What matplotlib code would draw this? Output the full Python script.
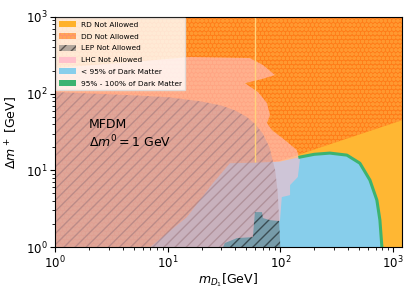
import numpy as np
import matplotlib
matplotlib.use('Agg')
import matplotlib.pyplot as plt
from matplotlib.patches import Patch

# axis ranges
m_lim = [1, 1200]
dm_lim = [1, 1000]

# relic density excluded: whole plane (allowed bits drawn on top)
rd_m = [1, 1200]

# direct detection excluded region (boundary, GeV)
dd_m = [1, 1, 1200, 1200, 86, 50]
dm_dd = [1, 1000, 1000, 45, 12.4, 1]

# LEP excluded region (lower-left, under the curve)
lep_m = [1, 5, 10, 20, 30, 40, 50, 60, 70, 80, 90, 95, 100]
lep_dm = [105, 95, 90, 79, 70, 60, 50, 40, 30, 20, 10, 5, 1]

# LHC excluded region (polygon)
lhc_m = [1, 1, 3.77, 15.8, 53.7, 70.1, 89.5, 68.7, 48.5, 63.3, 76.1, 80.9,
         76.1, 84.2, 110, 140, 149, 143, 122, 122, 103, 99.2, 80.9, 70.1,
         68.7, 59.5, 57.1, 41.2, 32.2, 31.0]
lhc_dm = [1, 216, 251, 300, 291, 236, 175, 155, 137, 105, 75.4, 52.6,
          41.4, 33.5, 24.8, 18.4, 13.6, 8.2, 6.43, 4.76, 4.49, 2.18, 2.25, 2.39,
          2.86, 2.86, 1.35, 1.31, 1.13, 1]

# under-abundant dark matter (< 95%)
dm95_m = [7.0, 14.8, 25.2, 35.7, 60, 99, 149, 200, 275, 390, 508, 624, 719, 765, 797]
dm95_dm = [1, 2.46, 6.8, 12.4, 12.6, 13.0, 14.9, 16.2, 16.8, 15.8, 12.4, 7.47, 4.1, 2.25, 1]

# 95% - 100% band (edge of the blue region)
band_m = [149, 200, 275, 390, 508, 624, 719, 765, 797]
band_dm = [14.9, 16.2, 16.8, 15.8, 12.4, 7.47, 4.1, 2.25, 1]

# Higgs resonance strip
m_res = 60

fig = plt.figure(figsize=(4.15, 2.97), dpi=100)
ax = fig.add_axes([0.1325, 0.168, 0.836, 0.775])

ax.fill_between(rd_m, dm_lim[0], dm_lim[1], color='orange', alpha=0.8, lw=0)
with plt.rc_context({'hatch.linewidth': 1.2}):
    ax.fill(dd_m, dm_dd, facecolor='orangered', alpha=0.5, edgecolor='#ffb347',
            hatch='oooo', lw=0)
    dd_patch = Patch(facecolor='orangered', alpha=0.5, edgecolor='#ffb347',
                     hatch='oooo', lw=0, label='DD Not Allowed')
ax.vlines(m_res, 13, dm_lim[1], color='#ffd27a', lw=1.0)
ax.fill(dm95_m, dm95_dm, color='#87ceeb', lw=0)
ax.plot(band_m, band_dm, color='#3cb371', lw=2.2)
ax.fill(lep_m + [1], lep_dm + [1], facecolor='dimgray', alpha=0.5,
        edgecolor='black', hatch='///', lw=0)
ax.fill(lhc_m, lhc_dm, color='pink', alpha=0.6, lw=0)

ax.set_xscale('log')
ax.set_yscale('log')
ax.set_xlim(m_lim)
ax.set_ylim(dm_lim)
ax.tick_params(labelsize=8.5, pad=2)
ax.set_xlabel(r'$m_{D_1}$[GeV]', fontsize=9, labelpad=0)
ax.set_ylabel(r'$\Delta m^+$ [GeV]', fontsize=9)

ax.text(2.0, 20, 'MFDM\n' + r'$\Delta m^0 = 1$ GeV', fontsize=9)

handles = [
    Patch(facecolor='orange', alpha=0.8, label='RD Not Allowed'),
    dd_patch,
    Patch(facecolor='dimgray', alpha=0.5, edgecolor='black', hatch='///', lw=0,
          label='LEP Not Allowed'),
    Patch(facecolor='pink', label='LHC Not Allowed'),
    Patch(facecolor='#87ceeb', label='< 95% of Dark Matter'),
    Patch(facecolor='#3cb371', label='95% - 100% of Dark Matter'),
]
ax.legend(handles=handles, loc='upper left', fontsize=5.3, labelspacing=0.7,
          handlelength=2.2, handleheight=0.9, borderaxespad=0.2, fancybox=False,
          edgecolor='#dddddd')

fig.savefig('out.png', dpi=100)
